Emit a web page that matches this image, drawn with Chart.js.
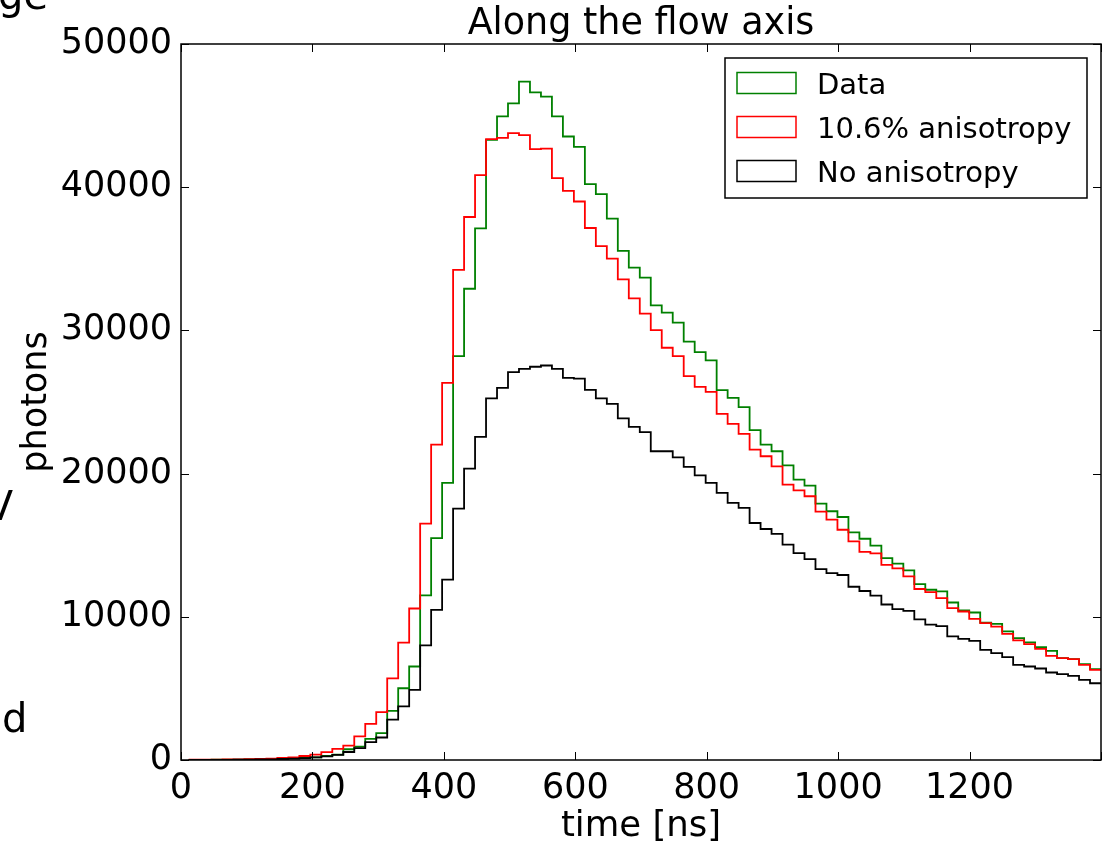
<!DOCTYPE html>
<html>
<head>
<meta charset="utf-8">
<script src="https://cdn.jsdelivr.net/npm/chart.js@4.4.1/dist/chart.umd.min.js"></script>
<style>
  html, body { margin: 0; padding: 0; background: #fff; }
  #wrap { width: 1103px; height: 847px; }
</style>
</head>
<body>
<div id="wrap"><canvas id="histChart" width="1103" height="847"></canvas></div>
<script>
// histogram binning (ns): nBins equal bins from binLo to binHi
var binLo = 13;
var binHi = 1400;
var nBins = 83;

var seriesNames = ["Data", "10.6% anisotropy", "No anisotropy"];
var seriesColors = ["#008000", "#ff0000", "#000000"];

// photons per bin
var dataCounts = [
  10, 15, 20, 25, 30, 40, 50, 70, 90, 120,
  150, 190, 280, 380, 750, 940, 1480, 1870, 3430, 5010,
  6530, 11490, 15500, 19350, 28210, 32910, 37130, 43300, 44940, 45850,
  47370, 46620, 46320, 44940, 43540, 42820, 40210, 39510, 37810, 35550,
  34380, 33680, 31750, 31240, 30540, 29210, 28480, 27900, 25830, 25290,
  24640, 23030, 22030, 21560, 20580, 19580, 19160, 17900, 17370, 16970,
  15900, 15450, 14970, 14100, 13710, 13240, 12280, 11890, 11770, 11000,
  10440, 10300, 9600, 9510, 8980, 8510, 8210, 7880, 7620, 7110,
  7040, 6690, 6340
];
var aniso106 = [
  20, 25, 30, 40, 50, 60, 80, 100, 140, 190,
  280, 370, 550, 770, 1000, 1650, 2520, 3340, 5700, 8200,
  10580, 16500, 22030, 26340, 34220, 37920, 40840, 43360, 43450, 43780,
  43640, 42660, 42700, 40630, 39740, 39000, 37150, 35880, 35010, 33570,
  32240, 31170, 30020, 28790, 28210, 26810, 26060, 25710, 24170, 23470,
  22770, 21680, 21210, 20510, 19230, 18830, 18420, 17340, 16780, 16080,
  15270, 14530, 14430, 13630, 13380, 12820, 11940, 11730, 11310, 10610,
  10370, 9860, 9560, 9320, 8810, 8350, 8090, 7760, 7270, 7110,
  7040, 6640, 6290
];
var noAniso = [
  5, 8, 10, 15, 20, 25, 35, 50, 70, 100,
  130, 180, 250, 360, 560, 830, 1250, 1570, 2820, 3750,
  4900, 8000, 10490, 12590, 17550, 20350, 22560, 25250, 25990, 27090,
  27320, 27460, 27550, 27320, 26690, 26630, 25850, 25250, 24870, 23850,
  23260, 22890, 21560, 21560, 21140, 20470, 19880, 19350, 18650, 17950,
  17600, 16550, 16130, 15790, 15040, 14450, 14030, 13330, 13050, 12920,
  12100, 11800, 11480, 10860, 10540, 10420, 9820, 9460, 9350, 8630,
  8460, 8320, 7690, 7460, 7180, 6640, 6530, 6390, 6110, 5990,
  5870, 5590, 5360
];

var xMin = 0, xMax = 1400, xStep = 200;
var yMin = 0, yMax = 50000, yStep = 10000;

var FONT = "'DejaVu Sans', 'Liberation Sans', sans-serif";

var edges = [];
for (var k = 0; k <= nBins; k++) {
  edges.push(binLo + k * (binHi - binLo) / nBins);
}

// step outline like matplotlib histtype='step'
function stepPoints(vals) {
  var pts = [{ x: edges[0], y: 0 }];
  vals.forEach(function (v, i) {
    pts.push({ x: edges[i], y: v });
  });
  pts.push({ x: edges[nBins], y: vals[nBins - 1] });
  return pts;
}

var allSeries = [dataCounts, aniso106, noAniso];

// box, inner ticks, titles, legend
var decorations = {
  id: "decorations",
  afterDraw: function (chart) {
    var ctx = chart.ctx;
    var a = chart.chartArea;
    var xs = chart.scales.x;
    var ys = chart.scales.y;
    ctx.save();

    ctx.strokeStyle = "#000";
    ctx.lineWidth = 1;
    ctx.beginPath();
    xs.ticks.forEach(function (t) {
      var px = Math.round(xs.getPixelForValue(t.value)) + 0.5;
      ctx.moveTo(px, a.bottom); ctx.lineTo(px, a.bottom - 8);
      ctx.moveTo(px, a.top); ctx.lineTo(px, a.top + 8);
    });
    ys.ticks.forEach(function (t) {
      var py = Math.round(ys.getPixelForValue(t.value)) + 0.5;
      ctx.moveTo(a.left, py); ctx.lineTo(a.left + 8, py);
      ctx.moveTo(a.right, py); ctx.lineTo(a.right - 8, py);
    });
    ctx.stroke();

    ctx.lineWidth = 1.5;
    ctx.strokeRect(a.left, a.top, a.right - a.left, a.bottom - a.top);

    ctx.fillStyle = "#000";
    ctx.textAlign = "center";
    ctx.textBaseline = "alphabetic";
    ctx.font = "36.5px " + FONT;
    ctx.fillText("Along the flow axis", (a.left + a.right) / 2, 34);
    ctx.font = "35.5px " + FONT;
    ctx.fillText("time [ns]", (a.left + a.right) / 2, 836);

    // legend
    var bx = a.right - 14, by = a.top + 14;
    var bw = 362, bh = 140;
    ctx.fillStyle = "#fff";
    ctx.fillRect(bx - bw, by, bw, bh);
    ctx.lineWidth = 1.5;
    ctx.strokeStyle = "#000";
    ctx.strokeRect(bx - bw, by, bw, bh);
    ctx.font = "29px " + FONT;
    ctx.textAlign = "left";
    chart.data.datasets.forEach(function (ds, i) {
      var cy = by + 25 + i * 44;
      ctx.strokeStyle = ds.borderColor;
      ctx.lineWidth = 1.5;
      ctx.strokeRect(bx - bw + 12, cy - 10.5, 59, 21);
      ctx.fillStyle = "#000";
      ctx.fillText(ds.label, bx - bw + 92, cy + 10.5);
    });

    // cut-off text of the neighbouring panel
    ctx.font = "40px " + FONT;
    ctx.textAlign = "right";
    ctx.fillText("ge", 48, 9);
    ctx.fillText("V", 13, 520);
    ctx.textAlign = "left";
    ctx.fillText("d", 2, 732);
    ctx.restore();
  }
};

var ctx = document.getElementById("histChart");

new Chart(ctx, {
  type: "line",
  data: {
    datasets: allSeries.map(function (vals, i) {
      return {
        label: seriesNames[i],
        data: stepPoints(vals),
        borderColor: seriesColors[i],
        backgroundColor: "#fff",
        borderWidth: 1.8,
        stepped: "before",
        pointRadius: 0,
        fill: false,
        order: 3 - i
      };
    })
  },
  options: {
    responsive: false,
    animation: false,
    devicePixelRatio: 1,
    layout: { padding: { top: 44, right: 2, left: 0, bottom: 0 } },
    plugins: {
      legend: { display: false },
      title: { display: false },
      tooltip: { enabled: false }
    },
    scales: {
      x: {
        type: "linear",
        min: xMin,
        max: xMax,
        grid: { display: false, drawTicks: false },
        border: { display: false },
        ticks: {
          stepSize: xStep,
          autoSkip: false,
          maxRotation: 0,
          padding: 8,
          color: "#000",
          font: { family: FONT, size: 35 },
          callback: function (v) { return v === xMax ? "" : String(v); }
        },
        afterFit: function (scale) {
          scale.height = 87;
          scale.paddingLeft = 0;
          scale.paddingRight = 0;
        }
      },
      y: {
        min: yMin,
        max: yMax,
        grid: { display: false, drawTicks: false },
        border: { display: false },
        ticks: {
          stepSize: yStep,
          padding: 9,
          color: "#000",
          font: { family: FONT, size: 35 },
          callback: function (v) { return String(v); }
        },
        title: {
          display: true,
          text: "photons",
          color: "#000",
          font: { family: FONT, size: 35 },
          padding: { top: 16, bottom: 0 }
        },
        afterFit: function (scale) { scale.width = 181; }
      }
    }
  },
  plugins: [decorations]
});
</script>
</body>
</html>
